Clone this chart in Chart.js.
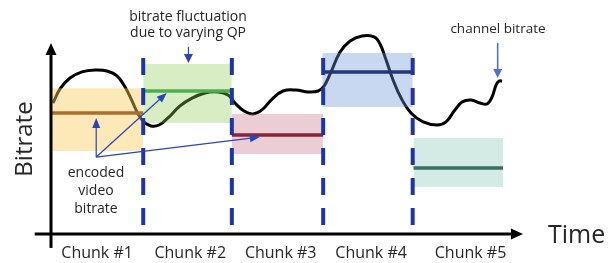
<!DOCTYPE html>
<html>
<head>
<meta charset="utf-8">
<script src="https://cdn.jsdelivr.net/npm/chart.js@4.4.1/dist/chart.umd.min.js"></script>
<style>
  html, body { margin: 0; padding: 0; background: #ffffff; }
  #wrap { width: 616px; height: 263px; }
</style>
</head>
<body>
<div id="wrap"><canvas id="c" width="616" height="263"></canvas></div>
<script>
// ---- data (time in chunk units, bitrate in arbitrary units) ----
const chunkLabels = ['Chunk #1', 'Chunk #2', 'Chunk #3', 'Chunk #4', 'Chunk #5'];
const chunkLabelX = [0.51, 1.54, 2.54, 3.54, 4.64];
const chunkStart = [0, 1.02, 2.0, 3.0, 4.01];
const chunkEnd = [1.02, 2.0, 3.01, 4.0, 5.0];
const rangeTop = [7.64, 8.90, 6.28, 9.48, 5.03];
const rangeBottom = [4.35, 5.81, 4.19, 6.65, 2.46];
const meanRate = [6.34, 7.49, 5.18, 8.48, 3.46];
const boundaryX = [1.02, 2.0, 3.01, 4.0];
const channelX = [0.022, 0.100, 0.210, 0.343, 0.487, 0.619, 0.730, 0.819, 0.896, 0.963, 1.029, 1.106, 1.195, 1.294, 1.427, 1.560, 1.704, 1.847, 1.958, 2.035, 2.135, 2.235, 2.334, 2.445, 2.566, 2.710, 2.843, 2.954, 3.020, 3.097, 3.197, 3.308, 3.440, 3.573, 3.639, 3.706, 3.783, 3.872, 3.982, 4.115, 4.270, 4.369, 4.458, 4.546, 4.646, 4.745, 4.823, 4.878, 4.923, 4.956, 4.989];
const channelY = [6.86, 7.60, 8.17, 8.49, 8.59, 8.54, 8.28, 7.70, 6.97, 6.29, 5.87, 5.66, 5.71, 6.08, 6.71, 7.12, 7.39, 7.44, 7.28, 6.86, 6.44, 6.29, 6.50, 7.07, 7.49, 7.54, 7.44, 7.49, 7.75, 8.49, 9.53, 10.11, 10.37, 10.32, 9.95, 9.11, 8.07, 7.12, 6.34, 5.87, 5.71, 5.87, 6.44, 6.91, 7.02, 6.86, 6.81, 7.18, 7.81, 8.01, 8.01];
const boundaryTop = 9.22;
const boundaryBottom = 0.21;

// annotation anchors in data units
const encodedOrigin = { x: 0.50, y: 4.03 };
const encodedTargets = [{ x: 0.50, y: 6.08 }, { x: 1.28, y: 7.39 }, { x: 2.31, y: 5.08 }];
const fluctArrow = [{ x: 1.52, y: 9.80 }, { x: 1.52, y: 8.96 }];
const channelArrow = [{ x: 4.94, y: 10.0 }, { x: 4.94, y: 8.17 }];

// ---- styles ----
const fillColors = ['rgba(250,205,90,0.44)', 'rgba(145,203,87,0.35)', 'rgba(195,112,135,0.35)', 'rgba(108,149,216,0.37)', 'rgba(112,185,165,0.30)'];
const lineColors = ['#a8702e', '#4caf50', '#8b233c', '#1e3778', '#3c6e64'];
const dashColor = '#1f35a5';
const FONT = "'Open Sans', 'Noto Sans', sans-serif";

const datasets = [];
datasets.push({
  type: 'line', label: 'channel bitrate',
  data: channelX.map((v, i) => ({ x: v, y: channelY[i] })),
  borderColor: '#000', borderWidth: 3, pointRadius: 0, fill: false,
  tension: 0.4, order: 20, clip: false
});
for (let i = 0; i < chunkLabels.length; i++) {
  datasets.push({
    type: 'line', label: chunkLabels[i] + ' top',
    data: [{ x: chunkStart[i], y: rangeTop[i] }, { x: chunkEnd[i], y: rangeTop[i] }],
    borderWidth: 0, borderColor: 'rgba(0,0,0,0)', pointRadius: 0,
    fill: '+1', backgroundColor: fillColors[i], order: 10, clip: false
  });
  datasets.push({
    type: 'line', label: chunkLabels[i] + ' bottom',
    data: [{ x: chunkStart[i], y: rangeBottom[i] }, { x: chunkEnd[i], y: rangeBottom[i] }],
    borderWidth: 0, borderColor: 'rgba(0,0,0,0)', pointRadius: 0, fill: false, order: 10, clip: false
  });
}
for (let i = 0; i < chunkLabels.length; i++) {
  datasets.push({
    type: 'line', label: chunkLabels[i] + ' mean',
    data: [{ x: chunkStart[i], y: meanRate[i] }, { x: chunkEnd[i], y: meanRate[i] }],
    borderWidth: 3.5, borderColor: lineColors[i], pointRadius: 0, fill: false, order: 5, clip: false
  });
}
for (let i = 0; i < boundaryX.length; i++) {
  datasets.push({
    type: 'line', label: 'boundary ' + (i + 1),
    data: [{ x: boundaryX[i], y: boundaryTop }, { x: boundaryX[i], y: boundaryBottom }],
    borderWidth: 4, borderColor: dashColor, borderDash: [17, 13], borderCapStyle: 'butt',
    pointRadius: 0, fill: false, order: 1, clip: false
  });
}

function arrowHead(ctx, x0, y0, x1, y1, len, half) {
  const a = Math.atan2(y1 - y0, x1 - x0);
  ctx.beginPath();
  ctx.moveTo(x1, y1);
  ctx.lineTo(x1 - len * Math.cos(a) + half * Math.sin(a), y1 - len * Math.sin(a) - half * Math.cos(a));
  ctx.lineTo(x1 - len * Math.cos(a) - half * Math.sin(a), y1 - len * Math.sin(a) + half * Math.cos(a));
  ctx.closePath();
  ctx.fill();
}
function arrow(ctx, x0, y0, x1, y1, color, lw, len, half) {
  const a = Math.atan2(y1 - y0, x1 - x0);
  ctx.strokeStyle = color; ctx.fillStyle = color; ctx.lineWidth = lw;
  ctx.beginPath(); ctx.moveTo(x0, y0);
  ctx.lineTo(x1 - (len - 1) * Math.cos(a), y1 - (len - 1) * Math.sin(a)); ctx.stroke();
  arrowHead(ctx, x0, y0, x1, y1, len, half);
}

const overlay = {
  id: 'overlay',
  afterDatasetsDraw(chart) {
    const { ctx, scales: { x, y } } = chart;
    const px = v => x.getPixelForValue(v), py = v => y.getPixelForValue(v);
    ctx.save();
    // axes
    arrow(ctx, px(-0.18), py(0), px(5.22), py(0), '#000', 3, 12, 5.5);
    arrow(ctx, px(0), py(-0.73), px(0), py(10.0), '#000', 3, 12, 5.5);
    // annotation arrows
    const ox = px(encodedOrigin.x), oy = py(encodedOrigin.y);
    encodedTargets.forEach(t => arrow(ctx, ox, oy, px(t.x), py(t.y), '#2a45b5', 1.2, 10, 4));
    arrow(ctx, px(fluctArrow[0].x), py(fluctArrow[0].y), px(fluctArrow[1].x), py(fluctArrow[1].y), '#2a45b5', 1.2, 9, 4.5);
    arrow(ctx, px(channelArrow[0].x), py(channelArrow[0].y), px(channelArrow[1].x), py(channelArrow[1].y), '#5470c8', 1.6, 9, 4.5);
    // texts
    ctx.fillStyle = '#262626';
    ctx.textAlign = 'center'; ctx.textBaseline = 'middle';
    ctx.font = '16px ' + FONT;
    chunkLabels.forEach((l, i) => ctx.fillText(l, px(chunkLabelX[i]), 253));
    ctx.font = '14px ' + FONT;
    ctx.fillText('bitrate fluctuation', 188, 17);
    ctx.fillText('due to varying QP', 188, 33);
    ctx.fillText('encoded', 96, 173);
    ctx.fillText('video', 96, 191);
    ctx.fillText('bitrate', 96, 209);
    ctx.font = '13.5px ' + FONT;
    ctx.fillText('channel bitrate', 498, 29);
    ctx.font = '25px ' + FONT;
    ctx.textAlign = 'left';
    ctx.fillText('Time', 548, 236);
    ctx.translate(25, 139);
    ctx.rotate(-Math.PI / 2);
    ctx.textAlign = 'center';
    ctx.font = '24px ' + FONT;
    ctx.fillText('Bitrate', 0, 0);
    ctx.restore();
  }
};

new Chart(document.getElementById('c'), {
  type: 'line',
  data: { datasets },
  options: {
    responsive: false, animation: false, devicePixelRatio: 1,
    layout: { padding: { left: 51, right: 93, top: 24, bottom: 29 } },
    plugins: { legend: { display: false }, tooltip: { enabled: false } },
    scales: {
      x: { type: 'linear', min: 0, max: 5.22, display: false },
      y: { type: 'linear', min: 0, max: 11, display: false }
    }
  },
  plugins: [overlay]
});
</script>
</body>
</html>
